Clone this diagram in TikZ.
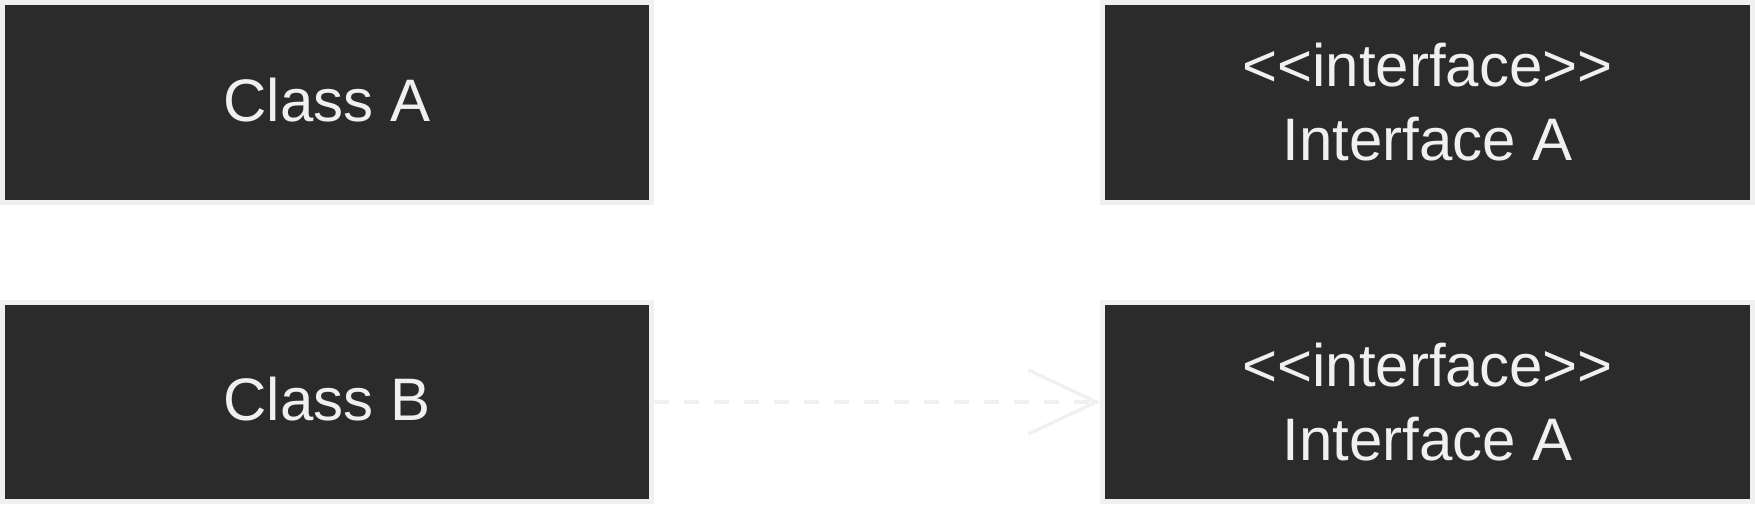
\documentclass[tikz,border=0pt]{standalone}
\usepackage{fontspec}
\setmainfont{Liberation Sans}
\usetikzlibrary{arrows.meta}
\definecolor{boxfill}{HTML}{2B2B2B}
\definecolor{boxline}{HTML}{F0F0F0}
\newcommand{\stereo}[1]{<\kern0pt<#1>\kern0pt>}

\tikzset{
    umlbox/.style={draw=boxline, fill=boxfill, text=boxline, line width=2.5pt,
        minimum width=324.75pt, minimum height=99.75pt, inner sep=0pt,
        font=\fontsize{30}{37}\selectfont},
    classbox/.style={umlbox, text height=18.8pt, text depth=0pt},
    ifacebox/.style={umlbox, align=center},
    realize/.style={draw=boxline, line width=2pt, dash pattern=on 7.5pt off 7.5pt,
        -{Straight Barb[length=34pt, width=32pt, line width=1.65pt]}}
}

\begin{document}
\begin{tikzpicture}[x=0.5pt, y=-0.5pt]
    \path[use as bounding box, fill=white] (0,0) rectangle (1755,510);

    \node[classbox] (classA) at (327,102.25) {Class A};
    \node[ifacebox] (ifaceA) at (1427.5,102.25) {\stereo{interface}\\Interface A};

    \node[classbox] (classB) at (327,402) {Class B};
    \node[ifacebox] (ifaceB) at (1427.5,402) {\stereo{interface}\\Interface A};

    % realization
    \draw[realize] (classB) -- (ifaceB);
\end{tikzpicture}
\end{document}
